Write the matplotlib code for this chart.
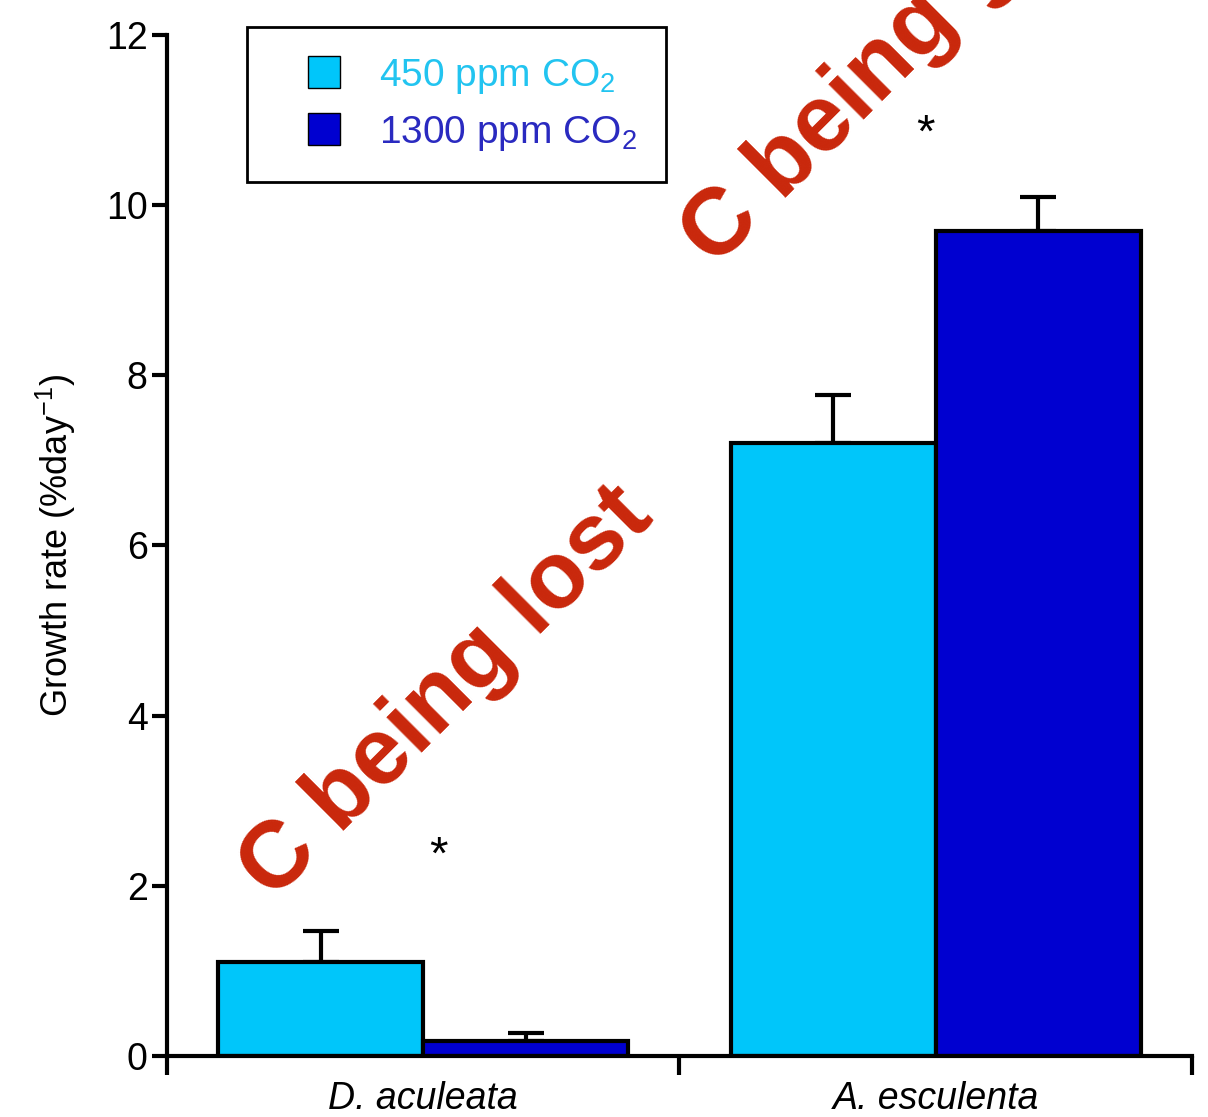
import matplotlib
matplotlib.use('Agg')
import matplotlib.pyplot as plt
import matplotlib.patches as mpatches
from matplotlib.container import BarContainer
from matplotlib.legend_handler import HandlerPatch, update_from_first_child
import numpy as np

plt.rcParams['font.family'] = ['Liberation Sans', 'DejaVu Sans']
plt.rcParams['mathtext.fontset'] = 'custom'
plt.rcParams['mathtext.rm'] = 'Liberation Sans'
plt.rcParams['mathtext.it'] = 'Liberation Sans:italic'

# data
species = ['D. aculeata', 'A. esculenta']
low_co2 = [1.10, 7.20]
low_err = [0.37, 0.57]
high_co2 = [0.18, 9.70]
high_err = [0.09, 0.40]
labels = ['450 ppm CO$_2$', '1300 ppm CO$_2$']

light = '#00c6fa'
dark = '#0000d0'

fig = plt.figure(figsize=(12.08, 11.17), dpi=100)
ax = fig.add_axes([0.1382, 0.0546, 0.8485, 0.9141])

x = np.arange(len(species))
w = 0.40
ax.bar(x - w/2, low_co2, w, color=light, edgecolor='black', linewidth=3,
       label=labels[0], zorder=2)
ax.bar(x + w/2, high_co2, w, color=dark, edgecolor='black', linewidth=3,
       label=labels[1], zorder=2)

ax.errorbar(x - w/2, low_co2, yerr=[np.zeros(2), low_err], fmt='none',
            ecolor='black', elinewidth=3, capsize=13, capthick=3, zorder=1)
ax.errorbar(x + w/2, high_co2, yerr=[np.zeros(2), high_err], fmt='none',
            ecolor='black', elinewidth=3, capsize=13, capthick=3, zorder=1)

ax.set_xlim(-0.5, 1.5)
ax.set_ylim(0, 12)

for s in ['top', 'right']:
    ax.spines[s].set_visible(False)
for s in ['left', 'bottom']:
    ax.spines[s].set_linewidth(3)

ax.set_yticks([0, 2, 4, 6, 8, 10, 12])
ax.tick_params(axis='y', length=11, width=3, labelsize=27, pad=3)
ax.set_xticks([-0.5, 0.5, 1.5])
ax.set_xticklabels([])
ax.tick_params(axis='x', which='major', length=14, width=3)
ax.set_xticks(x, minor=True)
ax.set_xticklabels(species, minor=True, fontsize=27, style='italic')
ax.tick_params(axis='x', which='minor', length=0, pad=18)

ax.set_ylabel('Growth rate (%day$^{-1}$)', fontsize=26, labelpad=20)

# significance marks
ax.text(0.03, 2.34, '*', fontsize=34, ha='center', va='center')
ax.text(0.98, 10.83, '*', fontsize=34, ha='center', va='center')


# square legend swatch pushed to the right end of the handle box
def square(legend, orig_handle, xdescent, ydescent, width, height, fontsize):
    return mpatches.Rectangle((-xdescent + width - height, -ydescent), height, height)


leg = ax.legend(loc='upper left', bbox_to_anchor=(0.078, 1.008), borderaxespad=0,
                fontsize=28, handlelength=1.65, handleheight=0.9,
                handletextpad=1.0, labelspacing=0.45, borderpad=0.75,
                fancybox=False, edgecolor='black', framealpha=1,
                handler_map={BarContainer: HandlerPatch(patch_func=square,
                                                        update_func=update_from_first_child)})
leg.get_frame().set_linewidth(2)
for t, c in zip(leg.get_texts(), ['#22c4f0', '#2a2ac0']):
    t.set_color(c)
for h in leg.legend_handles:
    h.set_linewidth(1)

# red overlay annotations
red = '#c9270b'
ax.text(-0.293, 1.81, 'C being lost', color=red, fontsize=68, fontweight='bold',
        rotation=45, rotation_mode='anchor', ha='left', va='baseline', zorder=5)
ax.text(0.570, 9.25, 'C being gained', color=red, fontsize=68, fontweight='bold',
        rotation=45, rotation_mode='anchor', ha='left', va='baseline', zorder=5,
        clip_on=False)

plt.savefig('out.png', dpi=100)
